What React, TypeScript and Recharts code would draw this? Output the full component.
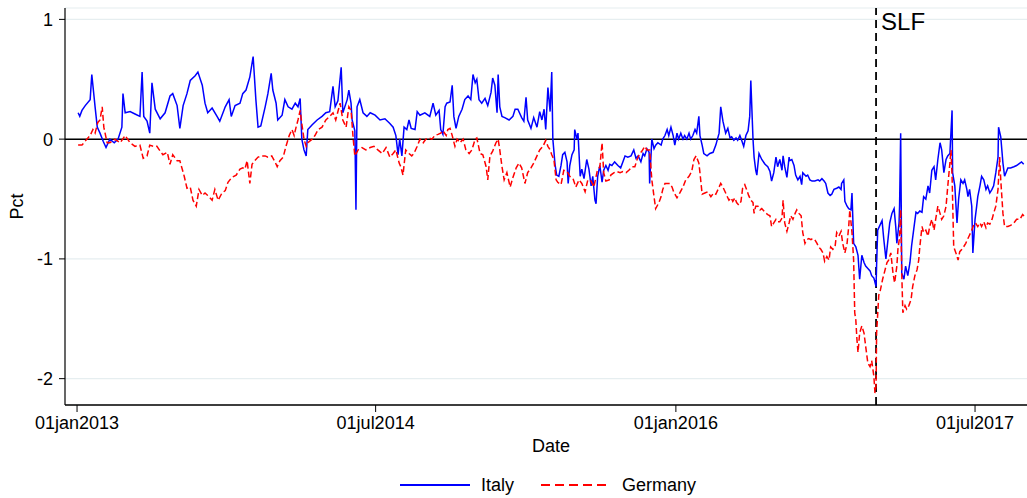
import React from "react";
import {
  LineChart,
  Line,
  XAxis,
  YAxis,
  CartesianGrid,
  ReferenceLine,
} from "recharts";

// days since 01jan2013, spread (pct)
const ITALY: [number, number][] = [
  [2, 0.22], [5, 0.19], [9, 0.24], [15, 0.28], [24, 0.33], [27, 0.54], [33, 0.27], [37, 0.1],
  [42, 0.05], [48, -0.02], [53, -0.07], [60, 0.0], [68, -0.03], [75, 0.0], [82, 0.1], [84, 0.38],
  [88, 0.22], [97, 0.23], [106, 0.21], [115, 0.19], [119, 0.56], [122, 0.19], [128, 0.15], [133, 0.05],
  [137, 0.47], [143, 0.25], [152, 0.17], [161, 0.22], [170, 0.36], [175, 0.38], [183, 0.28], [188, 0.09],
  [194, 0.28], [201, 0.38], [207, 0.49], [216, 0.53], [221, 0.56], [229, 0.45], [234, 0.3], [239, 0.22],
  [247, 0.26], [256, 0.19], [261, 0.15], [271, 0.27], [278, 0.33], [282, 0.19], [289, 0.28], [298, 0.3],
  [303, 0.38], [309, 0.41], [316, 0.52], [322, 0.69], [327, 0.33], [331, 0.1], [336, 0.11], [344, 0.27],
  [349, 0.38], [355, 0.55], [358, 0.41], [364, 0.3], [367, 0.16], [375, 0.2], [380, 0.33], [386, 0.27],
  [393, 0.25], [399, 0.3], [404, 0.27], [408, 0.34], [411, 0.0], [415, -0.09], [419, -0.14], [422, 0.08],
  [430, 0.12], [439, 0.16], [448, 0.19], [455, 0.22], [462, 0.23], [468, 0.44], [472, 0.27], [477, 0.32],
  [483, 0.6], [486, 0.22], [494, 0.33], [497, 0.41], [501, 0.3], [503, 0.16], [508, 0.07], [510, -0.59],
  [512, 0.27], [517, 0.33], [523, 0.22], [530, 0.19], [536, 0.22], [545, 0.2], [554, 0.16], [563, 0.17],
  [572, 0.13], [578, 0.1], [583, 0.03], [587, -0.13], [590, 0.0], [594, -0.14], [598, 0.1], [603, 0.08],
  [607, 0.16], [611, 0.09], [618, 0.08], [622, 0.23], [627, 0.2], [636, 0.22], [645, 0.19], [651, 0.3],
  [656, 0.2], [662, 0.24], [665, 0.08], [669, 0.04], [673, 0.27], [676, 0.3], [682, 0.31], [686, 0.45],
  [689, 0.19], [693, 0.09], [698, 0.19], [704, 0.25], [709, 0.33], [715, 0.36], [720, 0.33], [724, 0.54],
  [728, 0.47], [731, 0.5], [735, 0.33], [740, 0.3], [746, 0.34], [751, 0.28], [757, 0.39], [760, 0.51],
  [764, 0.45], [768, 0.22], [770, 0.54], [773, 0.27], [777, 0.19], [782, 0.18], [790, 0.16], [797, 0.19],
  [801, 0.25], [806, 0.25], [813, 0.18], [817, 0.15], [821, 0.35], [824, 0.16], [830, 0.09], [835, 0.18],
  [841, 0.1], [846, 0.23], [850, 0.16], [854, 0.25], [857, 0.08], [861, 0.43], [865, 0.23], [868, 0.56],
  [870, 0.0], [874, -0.21], [877, -0.3], [881, -0.31], [885, -0.22], [888, -0.13], [892, -0.11], [896, -0.19],
  [898, -0.37], [901, -0.22], [905, -0.13], [909, -0.09], [910, 0.08], [914, 0.0], [916, 0.05], [920, -0.31],
  [923, -0.25], [927, -0.33], [932, -0.17], [936, -0.25], [940, -0.39], [943, -0.31], [947, -0.51], [949, -0.54],
  [952, -0.31], [956, -0.22], [960, -0.36], [963, -0.26], [967, -0.22], [971, -0.26], [974, -0.21], [978, -0.22],
  [983, -0.19], [989, -0.22], [994, -0.24], [998, -0.19], [1002, -0.14], [1007, -0.15], [1013, -0.14], [1018, -0.09],
  [1022, -0.16], [1026, -0.14], [1031, -0.19], [1035, -0.12], [1038, -0.14], [1042, -0.08], [1046, -0.11], [1047, -0.37],
  [1051, 0.0], [1055, -0.08], [1058, -0.05], [1062, -0.03], [1068, -0.05], [1071, 0.0], [1075, 0.03], [1079, 0.08],
  [1082, 0.03], [1086, 0.1], [1090, 0.03], [1093, -0.05], [1097, 0.05], [1100, 0.0], [1104, 0.05], [1108, 0.0],
  [1111, 0.03], [1115, 0.0], [1119, 0.05], [1122, 0.0], [1126, 0.03], [1130, 0.08], [1133, 0.05], [1137, 0.19],
  [1139, 0.03], [1143, -0.05], [1146, -0.12], [1152, -0.14], [1157, -0.12], [1163, -0.11], [1168, -0.05], [1174, 0.05],
  [1177, 0.27], [1181, 0.15], [1186, 0.05], [1190, 0.09], [1194, 0.01], [1197, 0.02], [1201, -0.01], [1205, 0.01],
  [1208, -0.01], [1212, 0.03], [1216, -0.02], [1219, -0.06], [1223, 0.03], [1227, 0.07], [1230, 0.19], [1232, 0.49],
  [1236, 0.0], [1238, -0.15], [1241, -0.26], [1243, -0.3], [1247, -0.12], [1252, -0.17], [1258, -0.21], [1263, -0.23],
  [1267, -0.27], [1270, -0.35], [1274, -0.28], [1278, -0.15], [1281, -0.23], [1285, -0.17], [1289, -0.26], [1291, -0.14],
  [1294, -0.23], [1298, -0.32], [1302, -0.15], [1303, -0.18], [1307, -0.17], [1311, -0.22], [1314, -0.3], [1318, -0.34],
  [1322, -0.31], [1325, -0.38], [1327, -0.28], [1333, -0.31], [1336, -0.3], [1340, -0.34], [1344, -0.35], [1349, -0.35],
  [1355, -0.34], [1358, -0.35], [1362, -0.33], [1366, -0.35], [1369, -0.37], [1373, -0.45], [1377, -0.47], [1380, -0.46],
  [1384, -0.42], [1389, -0.41], [1393, -0.4], [1397, -0.42], [1398, -0.37], [1402, -0.34], [1404, -0.52], [1408, -0.56],
  [1411, -0.58], [1415, -0.59], [1417, -0.45], [1420, -0.87], [1424, -0.9], [1428, -0.97], [1431, -1.17], [1435, -0.97],
  [1439, -1.03], [1442, -1.06], [1446, -1.08], [1450, -1.1], [1453, -1.14], [1457, -1.16], [1461, -1.23], [1462, -1.05],
  [1464, -0.76], [1468, -0.72], [1472, -0.68], [1475, -0.83], [1479, -1.0], [1483, -0.83], [1486, -0.7], [1490, -0.62],
  [1494, -0.58], [1497, -0.73], [1499, -0.87], [1503, -0.7], [1504, -0.56], [1506, 0.05], [1508, -1.12], [1512, -1.17],
  [1515, -1.06], [1519, -1.14], [1523, -1.03], [1526, -0.89], [1530, -0.75], [1534, -0.61], [1537, -0.62], [1541, -0.6],
  [1545, -0.61], [1548, -0.48], [1552, -0.5], [1556, -0.39], [1559, -0.45], [1563, -0.26], [1567, -0.23], [1570, -0.34],
  [1574, -0.17], [1578, -0.03], [1581, -0.09], [1585, -0.28], [1589, -0.17], [1592, -0.14], [1596, -0.12], [1600, 0.24],
  [1601, -0.28], [1605, -0.39], [1609, -0.7], [1612, -0.5], [1616, -0.34], [1620, -0.37], [1623, -0.34], [1627, -0.42],
  [1629, -0.48], [1632, -0.42], [1636, -0.56], [1638, -0.95], [1642, -0.67], [1645, -0.56], [1647, -0.48], [1651, -0.39],
  [1654, -0.31], [1658, -0.34], [1662, -0.42], [1665, -0.39], [1669, -0.45], [1673, -0.42], [1676, -0.39], [1680, -0.28],
  [1684, -0.15], [1685, 0.1], [1689, 0.02], [1693, -0.2], [1696, -0.31], [1702, -0.24], [1707, -0.24], [1713, -0.23],
  [1718, -0.22], [1724, -0.2], [1727, -0.19], [1731, -0.21],
];

const GERMANY: [number, number][] = [
  [2, -0.05], [9, -0.05], [18, 0.0], [24, 0.03], [29, 0.08], [33, 0.05], [38, 0.14], [42, 0.16],
  [46, 0.27], [49, 0.1], [55, -0.03], [60, -0.03], [69, 0.0], [79, -0.03], [88, 0.03], [97, -0.03],
  [106, -0.06], [115, -0.05], [121, -0.16], [128, -0.14], [133, -0.05], [139, -0.06], [146, -0.06], [152, -0.1],
  [157, -0.13], [165, -0.11], [170, -0.21], [175, -0.13], [183, -0.18], [188, -0.18], [196, -0.31], [201, -0.41],
  [207, -0.4], [212, -0.51], [218, -0.56], [223, -0.42], [229, -0.47], [234, -0.45], [239, -0.47], [247, -0.51],
  [252, -0.42], [258, -0.51], [265, -0.45], [271, -0.43], [276, -0.36], [283, -0.32], [291, -0.3], [298, -0.25],
  [303, -0.24], [307, -0.25], [311, -0.18], [316, -0.37], [320, -0.21], [325, -0.18], [331, -0.15], [338, -0.14],
  [344, -0.14], [349, -0.15], [356, -0.14], [362, -0.19], [366, -0.23], [371, -0.18], [377, -0.15], [382, -0.06],
  [388, 0.03], [393, 0.08], [397, 0.03], [400, 0.09], [404, 0.16], [408, 0.24], [411, 0.13], [415, 0.0],
  [419, -0.06], [422, -0.03], [430, 0.0], [435, 0.03], [441, 0.08], [448, 0.1], [455, 0.16], [462, 0.19],
  [468, 0.22], [473, 0.16], [481, 0.3], [486, 0.16], [492, 0.1], [497, 0.27], [501, 0.24], [505, 0.0],
  [508, -0.14], [514, -0.09], [521, -0.07], [528, -0.09], [536, -0.07], [543, -0.06], [550, -0.09], [558, -0.12],
  [565, -0.07], [572, -0.15], [578, -0.12], [583, -0.09], [589, -0.2], [592, -0.23], [596, -0.3], [601, -0.09],
  [607, -0.12], [612, -0.14], [616, -0.12], [622, -0.06], [627, 0.0], [633, -0.03], [638, 0.0], [643, 0.01],
  [649, 0.0], [654, 0.03], [660, 0.04], [665, 0.05], [669, 0.07], [675, 0.03], [678, 0.08], [682, 0.09],
  [686, 0.03], [691, -0.06], [695, 0.0], [700, -0.03], [706, 0.0], [711, -0.09], [717, -0.12], [722, -0.09],
  [728, 0.0], [731, 0.01], [737, -0.12], [742, -0.13], [748, -0.23], [751, -0.34], [755, -0.14], [760, -0.1],
  [766, -0.03], [770, 0.0], [773, -0.09], [777, -0.23], [781, -0.34], [786, -0.28], [792, -0.4], [797, -0.32],
  [803, -0.24], [808, -0.2], [813, -0.24], [819, -0.37], [824, -0.28], [830, -0.24], [835, -0.2], [841, -0.14],
  [846, -0.09], [852, -0.06], [857, -0.01], [861, -0.06], [865, -0.09], [868, -0.13], [872, -0.17], [876, -0.34],
  [879, -0.36], [885, -0.38], [890, -0.26], [896, -0.27], [901, -0.31], [907, -0.33], [912, -0.4], [918, -0.34],
  [923, -0.37], [929, -0.44], [934, -0.34], [940, -0.35], [945, -0.4], [951, -0.27], [956, -0.23], [960, -0.03],
  [963, -0.28], [967, -0.35], [973, -0.34], [976, -0.3], [982, -0.28], [987, -0.27], [993, -0.28], [998, -0.27],
  [1004, -0.28], [1009, -0.26], [1015, -0.23], [1020, -0.23], [1024, -0.17], [1029, -0.12], [1033, -0.1], [1038, -0.06],
  [1042, -0.09], [1047, -0.09], [1051, -0.34], [1055, -0.48], [1058, -0.58], [1064, -0.53], [1068, -0.48], [1071, -0.42],
  [1075, -0.37], [1080, -0.37], [1084, -0.37], [1088, -0.4], [1091, -0.44], [1097, -0.49], [1102, -0.45], [1108, -0.4],
  [1113, -0.34], [1119, -0.31], [1124, -0.27], [1128, -0.17], [1132, -0.14], [1137, -0.2], [1139, -0.28], [1143, -0.46],
  [1148, -0.45], [1153, -0.44], [1159, -0.48], [1164, -0.45], [1168, -0.46], [1174, -0.4], [1177, -0.37], [1181, -0.4],
  [1186, -0.45], [1192, -0.51], [1196, -0.49], [1199, -0.52], [1203, -0.49], [1206, -0.53], [1210, -0.55], [1214, -0.52],
  [1217, -0.41], [1221, -0.38], [1225, -0.43], [1228, -0.47], [1232, -0.51], [1236, -0.53], [1238, -0.62], [1241, -0.56],
  [1245, -0.56], [1249, -0.59], [1252, -0.58], [1256, -0.6], [1260, -0.62], [1263, -0.63], [1267, -0.64], [1270, -0.73],
  [1274, -0.7], [1278, -0.67], [1281, -0.69], [1285, -0.69], [1289, -0.66], [1291, -0.51], [1294, -0.7], [1298, -0.77],
  [1302, -0.7], [1305, -0.64], [1309, -0.67], [1313, -0.62], [1316, -0.59], [1320, -0.62], [1324, -0.64], [1327, -0.78],
  [1331, -0.87], [1334, -0.84], [1338, -0.83], [1342, -0.84], [1345, -0.83], [1349, -0.84], [1353, -0.87], [1356, -0.9],
  [1360, -0.92], [1364, -0.95], [1367, -1.02], [1371, -0.98], [1375, -1.01], [1378, -0.9], [1382, -0.92], [1386, -0.9],
  [1389, -0.78], [1393, -0.81], [1397, -0.77], [1400, -0.87], [1404, -0.95], [1408, -0.87], [1411, -0.73], [1413, -0.59],
  [1417, -0.78], [1420, -1.01], [1422, -1.45], [1424, -1.51], [1426, -1.67], [1428, -1.78], [1431, -1.62], [1435, -1.56],
  [1439, -1.62], [1442, -1.73], [1446, -1.87], [1450, -1.9], [1453, -1.85], [1457, -1.98], [1459, -2.12], [1461, -2.06],
  [1462, -1.62], [1466, -1.3], [1468, -1.28], [1473, -1.17], [1477, -1.1], [1481, -1.03], [1484, -1.01], [1488, -0.95],
  [1492, -1.12], [1495, -1.2], [1499, -1.06], [1501, -0.92], [1504, -0.82], [1506, -0.59], [1508, -1.12], [1510, -1.45],
  [1514, -1.39], [1517, -1.42], [1521, -1.39], [1525, -1.34], [1528, -1.23], [1532, -1.14], [1536, -1.09], [1539, -1.01],
  [1541, -0.9], [1545, -0.73], [1548, -0.78], [1552, -0.76], [1556, -0.81], [1559, -0.73], [1563, -0.67], [1567, -0.76],
  [1570, -0.67], [1574, -0.56], [1578, -0.62], [1581, -0.67], [1585, -0.64], [1589, -0.56], [1592, -0.4], [1596, -0.2],
  [1598, -0.09], [1600, -0.31], [1603, -0.9], [1607, -0.95], [1611, -1.01], [1614, -0.94], [1618, -0.92], [1621, -0.9],
  [1625, -0.87], [1629, -0.83], [1632, -0.8], [1636, -0.76], [1640, -0.71], [1643, -0.7], [1647, -0.73], [1651, -0.7],
  [1654, -0.73], [1658, -0.69], [1662, -0.74], [1665, -0.7], [1669, -0.71], [1673, -0.67], [1676, -0.62], [1680, -0.56],
  [1684, -0.42], [1687, -0.15], [1689, -0.34], [1693, -0.62], [1696, -0.73], [1702, -0.73], [1707, -0.72], [1713, -0.7],
  [1718, -0.67], [1724, -0.67], [1729, -0.63], [1733, -0.65],
];

const TICK_DAYS = [0, 546, 1095, 1642];
const TICK_LABELS = ["01jan2013", "01jul2014", "01jan2016", "01jul2017"];
const Y_TICKS = [1, 0, -1, -2];
const SLF_DAY = 1461;

const LEGEND = [
  { name: "Italy", color: "#0000ff", dash: undefined as string | undefined },
  { name: "Germany", color: "#ff0000", dash: "9 5" },
];

const FONT = "'Liberation Sans', Arial, sans-serif";

const italyData = ITALY.map(([d, v]) => ({ d, v }));
const germanyData = GERMANY.map(([d, v]) => ({ d, v }));

export default function App() {
  return (
    <div
      style={{
        position: "absolute",
        left: 0,
        top: 0,
        width: 1027,
        height: 498,
        background: "#fff",
        fontFamily: FONT,
      }}
    >
      <LineChart
        width={1027}
        height={498}
        margin={{ top: 8, right: 0, bottom: 0, left: 0 }}
      >
        <CartesianGrid vertical={false} stroke="#e6eef0" strokeWidth={1.2} />
        <XAxis
          type="number"
          dataKey="d"
          domain={[-22, 1737]}
          allowDataOverflow
          ticks={TICK_DAYS}
          tickFormatter={(d: number) => TICK_LABELS[TICK_DAYS.indexOf(d)] ?? ""}
          height={93}
          tickSize={7}
          tickMargin={4}
          axisLine={{ stroke: "#000", strokeWidth: 1.5 }}
          tickLine={{ stroke: "#000" }}
          tick={{ fill: "#000", fontSize: 18, fontFamily: FONT }}
          label={{
            content: (p: any) => {
              const vb = p.viewBox || {};
              return (
                <text
                  x={vb.x + vb.width / 2 + 5}
                  y={452}
                  textAnchor="middle"
                  fontSize={18}
                  fontFamily={FONT}
                  fill="#000"
                >
                  Date
                </text>
              );
            },
          }}
        />
        <YAxis
          type="number"
          domain={[-2.22, 1.095]}
          allowDataOverflow
          ticks={Y_TICKS}
          width={65}
          tickSize={6}
          tickMargin={6}
          axisLine={{ stroke: "#000", strokeWidth: 1.2 }}
          tickLine={{ stroke: "#000" }}
          tick={{ fill: "#000", fontSize: 18, fontFamily: FONT }}
          label={{
            content: (p: any) => {
              const vb = p.viewBox || {};
              const cy = vb.y + vb.height / 2;
              return (
                <text
                  x={23}
                  y={cy}
                  transform={`rotate(-90 23 ${cy})`}
                  textAnchor="middle"
                  fontSize={18}
                  fontFamily={FONT}
                  fill="#000"
                >
                  Pct
                </text>
              );
            },
          }}
        />
        <ReferenceLine y={0} stroke="#000" strokeWidth={1.5} />
        <ReferenceLine
          x={SLF_DAY}
          stroke="#000"
          strokeWidth={1.8}
          strokeDasharray="8 5"
          label={{
            value: "SLF",
            position: "insideTopLeft",
            offset: 5,
            fontSize: 24,
            fill: "#000",
            fontFamily: FONT,
          }}
        />
        <Line
          data={italyData}
          dataKey="v"
          type="linear"
          stroke="#0000ff"
          strokeWidth={1.5}
          dot={false}
          isAnimationActive={false}
        />
        <Line
          data={germanyData}
          dataKey="v"
          type="linear"
          stroke="#ff0000"
          strokeWidth={1.5}
          strokeDasharray="6 3"
          dot={false}
          isAnimationActive={false}
        />
      </LineChart>
      <div
        style={{
          position: "absolute",
          left: 400,
          top: 473,
          display: "flex",
          alignItems: "center",
          fontSize: 18,
          color: "#000",
        }}
      >
        {LEGEND.map((item, i) => (
          <div
            key={item.name}
            style={{ display: "flex", alignItems: "center", marginRight: i === 0 ? 27 : 0 }}
          >
            <svg width={70} height={24}>
              <line
                x1={0}
                y1={12}
                x2={70}
                y2={12}
                stroke={item.color}
                strokeWidth={2}
                strokeDasharray={item.dash}
              />
            </svg>
            <span style={{ marginLeft: 11 }}>{item.name}</span>
          </div>
        ))}
      </div>
    </div>
  );
}
